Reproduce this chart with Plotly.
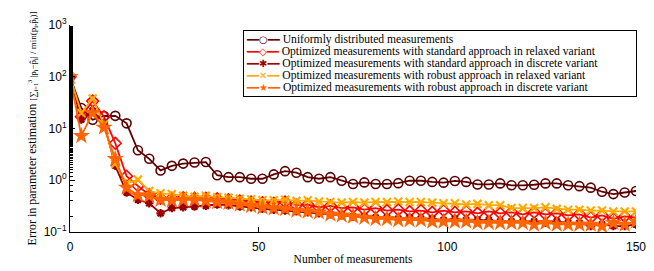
import plotly.graph_objects as go

n_meas = list(range(0, 151, 3))

uniform = [100, 25, 14.8, 17.5, 17.6, 12.6, 3.8, 2.6, 1.55, 1.9,
           2.1, 2.2, 2.25, 1.25, 1.15, 1.15, 1.07, 1.07, 1.3, 1.5,
           1.4, 1.15, 1.07, 1.15, 0.98, 0.85, 0.91, 0.85, 0.85, 0.88,
           0.98, 0.98, 0.93, 0.9, 0.97, 0.93, 0.83, 0.83, 0.87, 0.8,
           0.8, 0.82, 0.87, 0.87, 0.8, 0.77, 0.72, 0.6, 0.54, 0.58, 0.62]

std_relaxed = [100, 17, 34, 17, 5.2, 1.2, 0.78, 0.52, 0.45, 0.45,
               0.46, 0.45, 0.45, 0.44, 0.42, 0.4, 0.38, 0.37, 0.36, 0.38,
               0.33, 0.34, 0.3, 0.32, 0.29, 0.3, 0.27, 0.29, 0.26, 0.27,
               0.25, 0.26, 0.24, 0.26, 0.24, 0.25, 0.23, 0.25, 0.23, 0.24,
               0.22, 0.24, 0.22, 0.23, 0.21, 0.22, 0.19, 0.21, 0.18, 0.2, 0.19]

std_discrete = [100, 15, 22, 13, 1.9, 0.58, 0.42, 0.36, 0.23, 0.29,
                0.3, 0.31, 0.32, 0.34, 0.33, 0.31, 0.3, 0.28, 0.27, 0.26,
                0.25, 0.24, 0.23, 0.22, 0.21, 0.2, 0.2, 0.19, 0.19, 0.18,
                0.19, 0.18, 0.18, 0.17, 0.18, 0.17, 0.17, 0.17, 0.16, 0.16,
                0.16, 0.16, 0.15, 0.16, 0.15, 0.15, 0.13, 0.14, 0.13, 0.13, 0.14]

rob_relaxed = [100, 20, 38, 12, 2.1, 0.87, 1.03, 0.62, 0.56, 0.54,
               0.5, 0.48, 0.5, 0.47, 0.46, 0.44, 0.43, 0.41, 0.41, 0.42,
               0.4, 0.41, 0.39, 0.38, 0.37, 0.38, 0.37, 0.38, 0.38, 0.39,
               0.38, 0.38, 0.37, 0.36, 0.36, 0.34, 0.35, 0.33, 0.33, 0.29,
               0.29, 0.29, 0.3, 0.28, 0.27, 0.27, 0.26, 0.26, 0.25, 0.25, 0.25]

rob_discrete = [100, 7.2, 20, 10.5, 2.6, 0.72, 0.52, 0.5, 0.42, 0.41,
                0.42, 0.42, 0.4, 0.38, 0.37, 0.34, 0.32, 0.3, 0.29, 0.28,
                0.26, 0.25, 0.24, 0.22, 0.21, 0.2, 0.19, 0.18, 0.18, 0.17,
                0.17, 0.17, 0.16, 0.16, 0.16, 0.16, 0.15, 0.15, 0.15, 0.15,
                0.15, 0.14, 0.15, 0.14, 0.14, 0.14, 0.14, 0.13, 0.15, 0.14, 0.16]

series_names = [
    "Uniformly distributed measurements",
    "Optimized measurements with standard approach in relaxed variant",
    "Optimized measurements with standard approach in discrete variant",
    "Optimized measurements with robust approach in relaxed variant",
    "Optimized measurements with robust approach in discrete variant",
]

y_tickvals = [0.1, 1, 10, 100, 1000]
y_ticktext = ["10<sup>−1</sup>", "10<sup>0</sup>", "10<sup>1</sup>", "10<sup>2</sup>", "10<sup>3</sup>"]
x_tickvals = [0, 50, 100, 150]

styles = [
    dict(color="#5c0000", symbol="circle-open", size=9, lw=1.6, glyph="○"),
    dict(color="#ff0000", symbol="diamond-open", size=9, lw=1.6, glyph="◇"),
    dict(color="#9a0000", symbol="asterisk-open", size=7, lw=2.2, glyph="✱"),
    dict(color="#ffaa00", symbol="x-thin-open", size=8, lw=2.2, glyph="✕"),
    dict(color="#ff6400", symbol="star", size=13, lw=0, glyph="★"),
]

fig = go.Figure()
for name, vals, st in zip(series_names,
                          [uniform, std_relaxed, std_discrete, rob_relaxed, rob_discrete],
                          styles):
    marker = dict(symbol=st["symbol"], size=st["size"], color=st["color"])
    if st["lw"]:
        marker["line"] = dict(width=st["lw"], color=st["color"])
    fig.add_trace(go.Scatter(
        x=n_meas, y=vals, mode="lines+markers", name=name,
        line=dict(color=st["color"], width=1.8),
        marker=marker, showlegend=False,
    ))

# compact legend built from the series names and styles
legend_lines = []
for name, st in zip(series_names, styles):
    legend_lines.append(
        f'<span style="color:{st["color"]};font-family:DejaVu Sans;font-size:10px">━━{st["glyph"]}━━</span>'
        f'<span style="font-size:11.6px"> {name}</span>'
    )
fig.add_annotation(
    xref="paper", yref="paper", x=0.306, y=0.978, xanchor="left", yanchor="top",
    text="<br>".join(legend_lines), showarrow=False, align="left",
    width=388,
    font=dict(family="Liberation Serif", size=9.2, color="black"),
    bordercolor="black", borderwidth=1, borderpad=2, bgcolor="white",
)

fig.update_layout(
    width=646, height=263,
    margin=dict(l=62, r=11, t=8, b=31),
    plot_bgcolor="white", paper_bgcolor="white",
    font=dict(family="Liberation Serif", size=11, color="black"),
    showlegend=False,
)
fig.update_xaxes(
    range=[0, 150], tickvals=x_tickvals,
    showline=True, linecolor="black", linewidth=1,
    ticks="inside", ticklen=5, tickcolor="black",
    showgrid=False, zeroline=False, mirror=False,
    ticklabeloverflow="allow", ticklabelstandoff=4,
    tickfont=dict(family="Liberation Sans", size=12),
    title=dict(text="Number of measurements", standoff=1,
               font=dict(family="Liberation Serif", size=11.5)),
)
fig.update_yaxes(
    type="log", range=[-1, 3.002], tickvals=y_tickvals, ticktext=y_ticktext,
    showline=True, linecolor="black", linewidth=1,
    ticks="inside", ticklen=5, tickcolor="black",
    minor=dict(ticks="inside", ticklen=3, tickcolor="black", showgrid=False),
    showgrid=False, zeroline=False, mirror=False,
    ticklabeloverflow="allow",
    tickfont=dict(family="Liberation Sans", size=12),
    title=dict(
        text=("Error in parameter estimation "
              '<span style="font-size:9px">[∑<sub>i=1</sub><sup>3</sup> '
              "|p<sub>i</sub>−p̂<sub>i</sub>| / min(p<sub>i</sub>,p̂<sub>i</sub>)]</span>"),
        standoff=4,
        font=dict(family="Liberation Serif", size=12)),
)

fig.write_html("out.html")
